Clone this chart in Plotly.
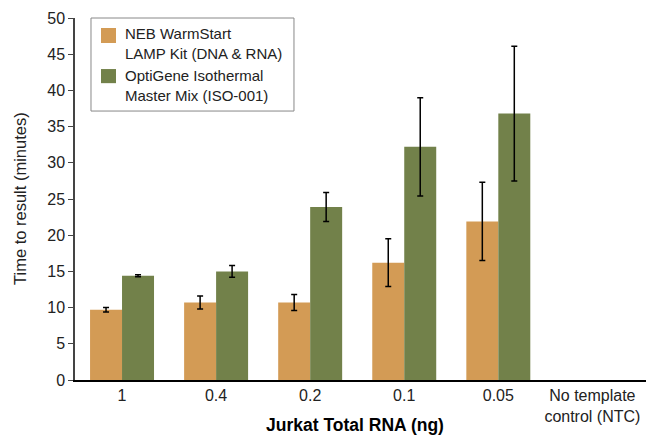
import plotly.graph_objects as go

categories = ["1", "0.4", "0.2", "0.1", "0.05", "No template<br>control (NTC)"]
neb_values = [9.7, 10.7, 10.7, 16.2, 21.9, None]
neb_errors = [0.3, 0.9, 1.1, 3.3, 5.4, None]
opti_values = [14.4, 15.0, 23.9, 32.2, 36.8, None]
opti_errors = [0.15, 0.8, 2.0, 6.8, 9.3, None]
series_names = ["NEB WarmStart<br>LAMP Kit (DNA & RNA)", "OptiGene Isothermal<br>Master Mix (ISO-001)"]

ORANGE = "#D39B55"
GREEN = "#72814A"
FONT = "Liberation Sans, Arial, Helvetica, sans-serif"

fig = go.Figure()
fig.add_trace(go.Bar(
    x=categories, y=neb_values, name=series_names[0], showlegend=False,
    marker=dict(color=ORANGE, line=dict(width=0)),
    error_y=dict(type="data", array=neb_errors, color="black", thickness=1.5, width=3),
))
fig.add_trace(go.Bar(
    x=categories, y=opti_values, name=series_names[1], showlegend=False,
    marker=dict(color=GREEN, line=dict(width=0)),
    error_y=dict(type="data", array=opti_errors, color="black", thickness=1.5, width=3),
))

# custom legend (paper coordinates)
shapes = [
    dict(type="rect", xref="paper", yref="paper", x0=0.028, x1=0.3835, y0=0.743, y1=1.0,
         line=dict(color="#888", width=1), fillcolor="white", layer="above"),
    dict(type="rect", xref="paper", yref="paper", x0=0.0455, x1=0.0718, y0=0.931, y1=0.9724,
         line=dict(width=0), fillcolor=ORANGE, layer="above"),
    dict(type="rect", xref="paper", yref="paper", x0=0.0455, x1=0.0718, y0=0.820, y1=0.859,
         line=dict(width=0), fillcolor=GREEN, layer="above"),
]
legend_texts = [
    dict(text=series_names[0], xref="paper", yref="paper", x=0.0841, y=0.9296,
         xanchor="left", yanchor="middle", align="left", showarrow=False,
         font=dict(size=15, color="#222")),
    dict(text=series_names[1], xref="paper", yref="paper", x=0.0841, y=0.8135,
         xanchor="left", yanchor="middle", align="left", showarrow=False,
         font=dict(size=15, color="#222")),
]

fig.update_layout(
    width=649, height=436,
    margin=dict(l=75, r=3, t=18, b=56, autoexpand=False),
    paper_bgcolor="white", plot_bgcolor="white",
    barmode="group", bargap=0.32, bargroupgap=0,
    font=dict(family=FONT, size=16, color="#222"),
    showlegend=False,
    xaxis=dict(
        range=[-0.5, 5.57], showline=True, linecolor="black", linewidth=1.5,
        ticks="", showgrid=False, tickfont=dict(size=16), automargin=False,
    ),
    yaxis=dict(
        range=[0, 50], dtick=5, showline=True, linecolor="#444", linewidth=1.5,
        ticks="outside", ticklen=5, tickcolor="#444", showgrid=False, zeroline=False,
        tickfont=dict(size=16), automargin=False,
    ),
    shapes=shapes,
    annotations=[
        dict(text="<b>Jurkat Total RNA (ng)</b>", xref="paper", yref="paper",
             x=0.5, y=0, xshift=-6, yshift=-45, xanchor="center", yanchor="middle",
             showarrow=False, font=dict(size=17.5, color="black")),
        dict(text="Time to result (minutes)", xref="paper", yref="paper",
             x=0, y=0.5, xshift=-55, xanchor="center", yanchor="middle",
             textangle=-90, showarrow=False, font=dict(size=16.5, color="#222")),
    ] + legend_texts,
)

fig.write_html("out.html", post_script="document.body.style.margin='0';",
               config={"displayModeBar": False})
